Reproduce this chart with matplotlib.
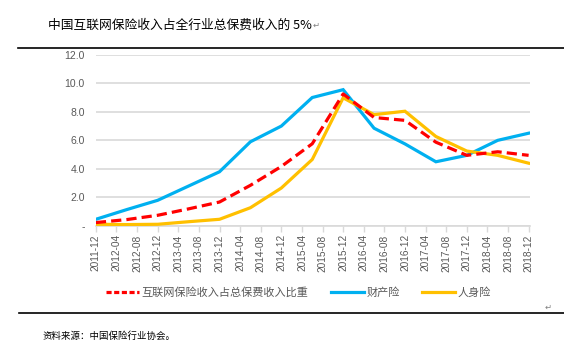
import numpy as np
import matplotlib
matplotlib.use("Agg")
import matplotlib.pyplot as plt
from matplotlib.lines import Line2D

plt.rcParams['font.family'] = ['Noto Sans CJK SC', 'DejaVu Sans']

# half-yearly points, months counted from 2011-12
months = [0, 6, 12, 18, 24, 30, 36, 42, 48, 54, 60, 66, 72, 78, 84]
share = [0.24, 0.45, 0.75, 1.2, 1.68, 2.85, 4.17, 5.76, 9.25, 7.6, 7.4, 5.87, 4.95, 5.2, 4.95]
property_ins = [0.47, 1.15, 1.8, 2.8, 3.8, 5.9, 7.0, 9.0, 9.55, 6.85, 5.75, 4.5, 4.95, 6.0, 6.5]
life_ins = [0.12, 0.1, 0.12, 0.3, 0.47, 1.28, 2.66, 4.66, 8.98, 7.8, 8.04, 6.27, 5.25, 4.95, 4.4]

tick_months = list(range(0, 85, 4))
tick_labels = ['2011-12', '2012-04', '2012-08', '2012-12', '2013-04', '2013-08', '2013-12',
               '2014-04', '2014-08', '2014-12', '2015-04', '2015-08', '2015-12', '2016-04',
               '2016-08', '2016-12', '2017-04', '2017-08', '2017-12', '2018-04', '2018-08',
               '2018-12']
y_ticks = [0, 2, 4, 6, 8, 10, 12]
y_labels = ['-', '2.0', '4.0', '6.0', '8.0', '10.0', '12.0']

names = ['互联网保险收入占总保费收入比重', '财产险', '人身险']
red, blue, yellow = '#FF0000', '#00B0F0', '#FFC000'

fig = plt.figure(figsize=(5.64, 3.55), dpi=100)
ax = fig.add_axes([0.170, 0.3634, 0.770, 0.4825])

ax.plot(months, property_ins, color=blue, lw=2.3, solid_joinstyle='miter', zorder=3)
ax.plot(months, life_ins, color=yellow, lw=2.3, solid_joinstyle='miter', zorder=3)
ax.plot(months, share, color=red, lw=2.3, dashes=(3.2, 1.6), zorder=4)

ax.set_xlim(0, 84.3)
ax.set_ylim(0, 12)
ax.set_yticks(y_ticks)
ax.set_yticklabels(y_labels, fontsize=7.5, color='#595959', family='Liberation Sans')
ax.set_xticks(tick_months)
ax.set_xticklabels(tick_labels, rotation=90, fontsize=7.3, color='#595959',
                   family='Liberation Sans')
ax.tick_params(axis='y', length=0, pad=8)
ax.tick_params(axis='x', length=4, color='#D9D9D9', width=1, pad=2)
ax.grid(axis='y', color='#D9D9D9', lw=1.2)
for s in ['top', 'right', 'left']:
    ax.spines[s].set_visible(False)
ax.spines['bottom'].set_color('#D9D9D9')
ax.spines['bottom'].set_linewidth(1.2)
ax.set_axisbelow(True)

handles = [Line2D([], [], color=red, lw=2.3, dashes=(1.6, 0.8)),
           Line2D([], [], color=blue, lw=2.3),
           Line2D([], [], color=yellow, lw=2.3)]
fig.legend(handles, names, loc='center', bbox_to_anchor=(0.529, 0.177), ncol=3,
           frameon=False, fontsize=8, handlelength=3.0, handletextpad=0.2,
           columnspacing=2.0, labelcolor='#595959')

title = fig.text(0.085, 0.928, '中国互联网保险收入占全行业总保费收入的 5%', fontsize=9.2,
                 va='center', color='#000000')
fig.canvas.draw()
bb = title.get_window_extent()
fig.text(bb.x1 / fig.bbox.width + 0.002, 0.928, '↵', fontsize=6, va='center',
         color='#808080', family='DejaVu Sans')
fig.add_artist(Line2D([0.032, 1.0], [0.865, 0.865], color='black', lw=1.2))
fig.add_artist(Line2D([0.034, 1.0], [0.118, 0.118], color='black', lw=1.2))
fig.text(0.965, 0.128, '↵', fontsize=6, color='#808080', family='DejaVu Sans')
fig.text(0.076, 0.053, '资料来源：中国保险行业协会。', fontsize=6.8, va='center',
         style='italic', color='#000000')

fig.savefig('out.png', dpi=100)
